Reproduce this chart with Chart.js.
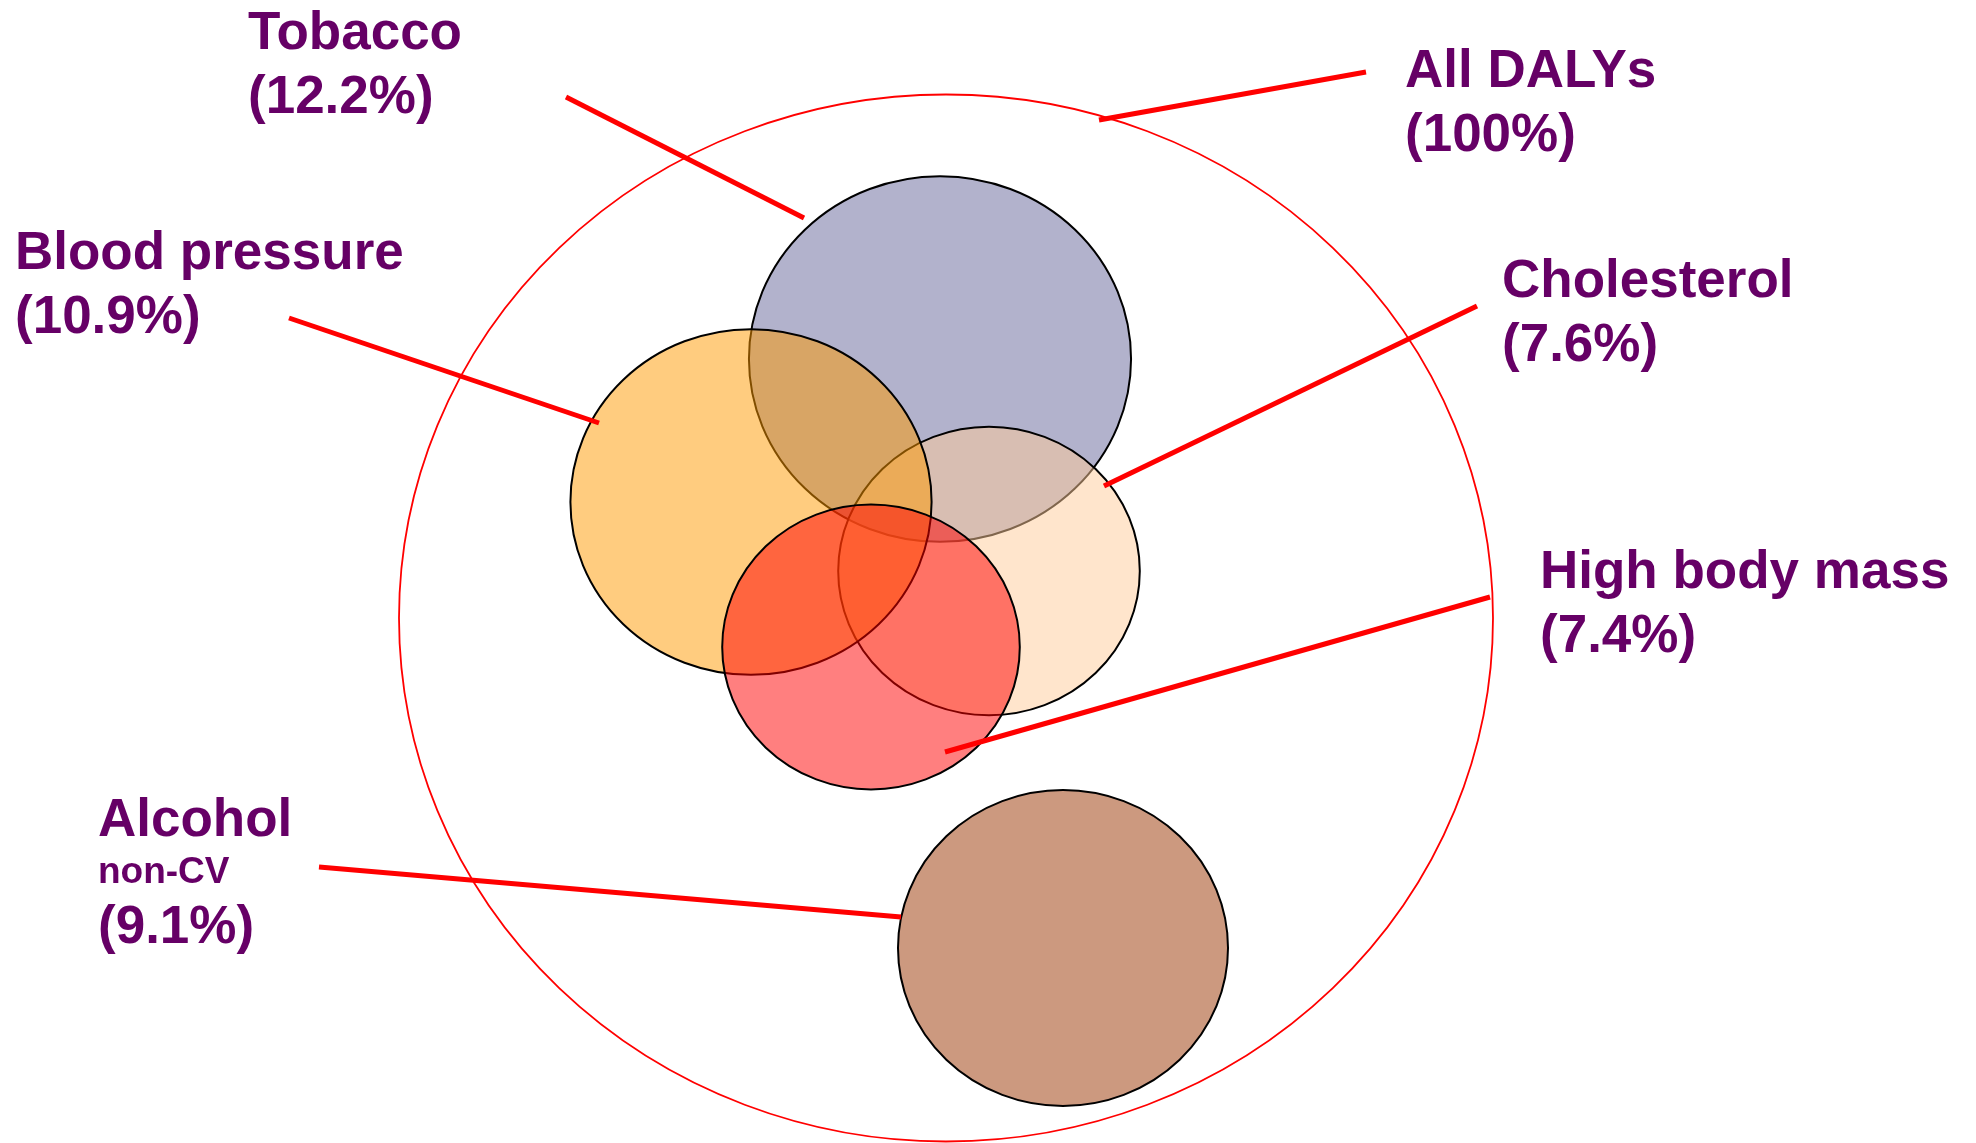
<!DOCTYPE html>
<html>
<head>
<meta charset="utf-8">
<script src="https://cdn.jsdelivr.net/npm/chart.js@4.4.1/dist/chart.umd.min.js"></script>
<style>
    body { margin: 0; background: #ffffff; }
    #wrap { width: 1976px; height: 1143px; }
</style>
</head>
<body>
<div id="wrap"><canvas id="chart" width="1976" height="1143"></canvas></div>
<script>
// risk factors, in drawing order (bottom first)
var risks = ['All DALYs', 'Alcohol', 'Tobacco', 'Cholesterol', 'Blood pressure', 'High body mass'];
var notes = ['', 'non-CV', '', '', '', ''];
var shares = [100, 9.1, 12.2, 7.6, 10.9, 7.4];   // % of all DALYs
var centerX = [946, 1063, 940, 989, 751, 871];
var centerY = [618, 948, 359, 571, 502, 647];

// where each label sits (left x, first baseline) and where its leader line ends
var labelX = [1405, 98, 248, 1502, 15, 1540];
var labelY = [87, 836, 49, 297, 269, 588];
var leaderFromX = [1366, 319, 566, 1477, 289, 1490];
var leaderFromY = [72, 867, 97, 306, 318, 597];
var leaderToX = [1099, 901, 804, 1104, 599, 945];
var leaderToY = [120, 917, 218, 486, 423, 752];

var fills = [null, 'rgba(153,51,0,0.5)', 'rgba(102,102,153,0.5)', 'rgba(255,204,153,0.5)',
    'rgba(255,153,0,0.5)', 'rgba(255,0,0,0.5)'];
var strokes = ['#ff0000', '#000000', '#000000', '#000000', '#000000', '#000000'];

var ellipses = {
    id: 'ellipses',
    beforeDatasetsDraw: function (chart, args, opts) {
        var ctx = chart.ctx;
        var xs = chart.scales.x, ys = chart.scales.y;
        var meta = chart.getDatasetMeta(0);
        for (var i = 0; i < meta.data.length; i++) {
            var pt = meta.data[i];
            var R = opts.unit * Math.sqrt(shares[i]);
            var rx = Math.abs(xs.getPixelForValue(centerX[i] + R) - pt.x);
            var ry = Math.abs(ys.getPixelForValue(centerY[i] + R * opts.aspect) - pt.y);
            ctx.save();
            ctx.beginPath();
            ctx.ellipse(pt.x, pt.y, rx, ry, 0, 0, 2 * Math.PI);
            if (fills[i]) {
                ctx.fillStyle = fills[i];
                ctx.fill();
            }
            ctx.lineWidth = fills[i] ? 2 : 1.8;
            ctx.strokeStyle = strokes[i];
            ctx.stroke();
            ctx.restore();
        }
    },
    afterDatasetsDraw: function (chart, args, opts) {
        var ctx = chart.ctx;
        var xs = chart.scales.x, ys = chart.scales.y;
        ctx.save();
        ctx.fillStyle = '#660066';
        ctx.textAlign = 'left';
        ctx.textBaseline = 'alphabetic';
        for (var i = 0; i < risks.length; i++) {
            var x = xs.getPixelForValue(labelX[i]);
            var y = ys.getPixelForValue(labelY[i]);
            ctx.font = 'bold 53px "Liberation Sans", Arial, sans-serif';
            ctx.fillText(risks[i], x, y);
            if (notes[i]) {
                y += 47;
                ctx.font = 'bold 37px "Liberation Sans", Arial, sans-serif';
                ctx.fillText(notes[i], x, y);
                y += 60;
            } else {
                y += 64;
            }
            ctx.font = 'bold 53px "Liberation Sans", Arial, sans-serif';
            ctx.fillText('(' + shares[i] + '%)', x, y);
        }
        ctx.restore();
    }
};

var datasets = [];
// leader lines first so they end up on top
for (var i = 0; i < risks.length; i++) {
    datasets.push({
        type: 'line',
        label: risks[i] + ' leader',
        data: [{x: leaderFromX[i], y: leaderFromY[i]}, {x: leaderToX[i], y: leaderToY[i]}],
        showLine: true,
        borderColor: '#ff0000',
        borderWidth: 5,
        borderCapStyle: 'butt',
        pointRadius: 0,
        fill: false
    });
}
var centres = [];
for (var j = 0; j < risks.length; j++) centres.push({x: centerX[j], y: centerY[j]});
datasets.unshift({
    type: 'scatter',
    label: 'circles',
    data: centres,
    pointRadius: 0
});

new Chart(document.getElementById('chart'), {
    type: 'scatter',
    data: { datasets: datasets },
    options: {
        responsive: false,
        animation: false,
        layout: { padding: 0 },
        scales: {
            x: { type: 'linear', min: 0, max: 1976, display: false },
            y: { type: 'linear', min: 0, max: 1143, reverse: true, display: false }
        },
        plugins: {
            legend: { display: false },
            tooltip: { enabled: false },
            ellipses: { unit: 54.7, aspect: 0.957 }
        }
    },
    plugins: [ellipses]
});
</script>
</body>
</html>
